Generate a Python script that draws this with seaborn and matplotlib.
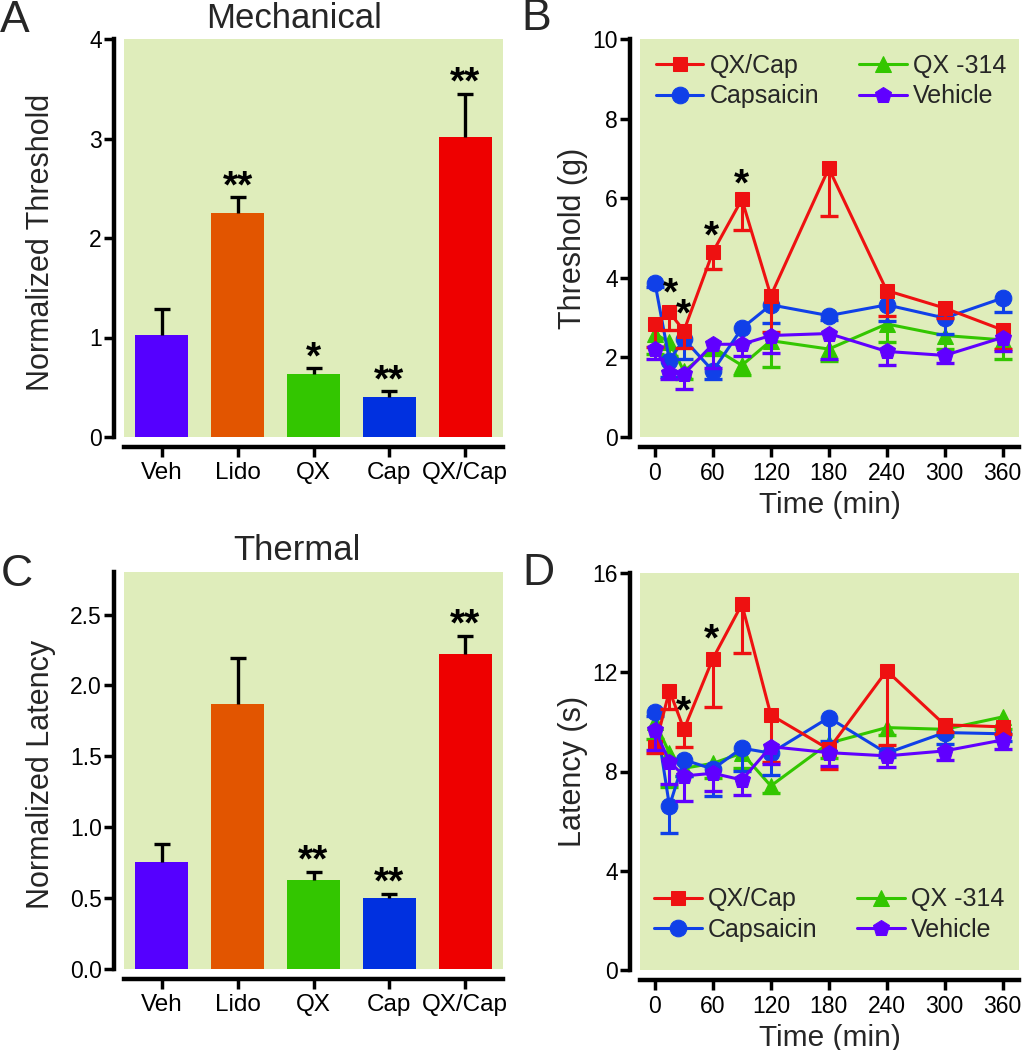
import numpy as np
import pandas as pd
import matplotlib
matplotlib.use('Agg')
import matplotlib.pyplot as plt
import seaborn as sns

# ---------------- data ----------------
bar_cats = ['Veh', 'Lido', 'QX', 'Cap', 'QX/Cap']
bar_colors = ['#5500FF', '#E25500', '#33C600', '#0030E0', '#EE0000']

mech_vals = [1.03, 2.25, 0.63, 0.40, 3.02]
mech_err = [0.26, 0.16, 0.06, 0.06, 0.43]
mech_stars = ['', '**', '*', '**', '**']

therm_vals = [0.755, 1.87, 0.63, 0.50, 2.22]
therm_err = [0.13, 0.32, 0.055, 0.03, 0.13]
therm_stars = ['', '', '**', '**', '**']

times = [0, 15, 30, 60, 90, 120, 180, 240, 300, 360]
series_names = ['QX/Cap', 'Capsaicin', 'QX -314', 'Vehicle']
series_colors = ['#EE1111', '#1040E8', '#33C600', '#6000FF']
series_markers = ['s', 'o', '^', 'p']

# Panel B: threshold (g), lower SEM
thr_qxcap = [2.84, 3.13, 2.67, 4.65, 5.97, 3.55, 6.75, 3.68, 3.24, 2.69]
thr_qxcap_err = [0.58, 0.45, 0.44, 0.42, 0.76, 0.90, 1.20, 0.65, 0.25, 0.48]
thr_cap = [3.87, 1.92, 2.46, 1.66, 2.73, 3.32, 3.05, 3.32, 2.99, 3.49]
thr_cap_err = [0.10, 0.40, 0.50, 0.20, 0.35, 0.45, 0.10, 0.40, 0.40, 0.36]
thr_qx = [2.59, 2.38, 1.65, 2.25, 1.80, 2.42, 2.21, 2.84, 2.55, 2.44]
thr_qx_err = [0.50, 0.35, 0.20, 0.20, 0.25, 0.65, 0.30, 0.45, 0.35, 0.47]
thr_veh = [2.22, 1.62, 1.58, 2.33, 2.33, 2.55, 2.60, 2.15, 2.05, 2.50]
thr_veh_err = [0.25, 0.17, 0.38, 0.60, 0.30, 0.45, 0.65, 0.35, 0.20, 0.35]

# Panel D: latency (s), lower SEM
lat_qxcap = [9.0, 11.26, 9.7, 12.55, 14.74, 10.28, 8.9, 12.06, 9.88, 9.8]
lat_qxcap_err = [0.25, 0.75, 0.70, 1.95, 1.95, 1.90, 0.80, 3.00, 0.30, 0.30]
lat_cap = [10.38, 6.61, 8.47, 8.10, 8.94, 8.74, 10.17, 8.74, 9.57, 9.52]
lat_cap_err = [0.15, 1.10, 0.65, 1.10, 0.90, 0.90, 0.95, 0.15, 0.45, 0.30]
lat_qx = [10.01, 8.74, 8.13, 8.33, 8.74, 7.42, 9.14, 9.77, 9.70, 10.2]
lat_qx_err = [0.70, 1.35, 0.30, 0.60, 0.60, 0.30, 0.60, 0.30, 0.25, 0.50]
lat_veh = [9.68, 8.40, 7.82, 7.93, 7.66, 9.00, 8.76, 8.63, 8.83, 9.27]
lat_veh_err = [0.80, 0.90, 1.00, 0.70, 0.60, 0.70, 0.55, 0.45, 0.35, 0.35]

thr_star_t = [16, 29, 59, 90]
thr_star_y = [3.85, 3.33, 5.28, 6.58]
lat_star_t = [29, 59]
lat_star_y = [10.82, 13.7]

BG = '#DFEDBB'

sns.set_theme(style='ticks')
plt.rcParams['font.family'] = ['Liberation Sans', 'DejaVu Sans']

fig = plt.figure(figsize=(10.22, 10.5), dpi=100)
W, H = 1022.0, 1050.0


def add_ax(left, top, right, bottom):
    return fig.add_axes([left / W, 1 - bottom / H, (right - left) / W, (bottom - top) / H])


axA = add_ax(124, 39, 503, 437)
axB = add_ax(640, 39, 1019, 437)
axC = add_ax(124, 572, 503, 969)
axD = add_ax(640, 573, 1019, 970)


def style(ax, xlabelsize):
    ax.set_facecolor(BG)
    for s in ['top', 'right']:
        ax.spines[s].set_visible(False)
    for s in ['left', 'bottom']:
        ax.spines[s].set_position(('outward', 7))
        ax.spines[s].set_linewidth(3.2)
        ax.spines[s].set_color('black')
    ax.tick_params(axis='y', width=2.5, length=7, labelsize=16.5, colors='black', pad=2)
    ax.tick_params(axis='x', width=2.5, length=7, labelsize=xlabelsize, colors='black', pad=4)
    ax.grid(False)


def bar_panel(ax, vals, errs, stars, ylim, yticks, yticklabels, ylabel):
    df = pd.DataFrame({'cat': bar_cats, 'val': vals})
    sns.barplot(data=df, x='cat', y='val', hue='cat', palette=bar_colors, order=bar_cats,
                hue_order=bar_cats, width=0.7, saturation=1, errorbar=None, legend=False,
                linewidth=0, ax=ax, zorder=2)
    x = np.arange(len(bar_cats))
    eb = ax.errorbar(x, vals, yerr=[np.zeros(len(vals)), errs], fmt='none', ecolor='black',
                     elinewidth=2.4, capsize=6, capthick=2.4, zorder=3)
    eb[1][0].set_visible(False)  # no cap at the bar top
    for xi, v, e, s in zip(x, vals, errs, stars):
        if s:
            ax.annotate(s, (xi, v + e), xytext=(0, 0), textcoords='offset points',
                        ha='center', va='baseline', fontsize=28, fontweight='bold',
                        color='black')
    ax.set_xlim(-0.5, 4.5)
    ax.set_ylim(*ylim)
    ax.set_yticks(yticks)
    ax.set_yticklabels(yticklabels)
    ax.set_xlabel('')
    ax.set_ylabel(ylabel, fontsize=22)
    ax.yaxis.set_label_coords(-0.18, 0.49)
    style(ax, 17.5)


def line_panel(ax, data, ylim, yticks, ylabel, star_t, star_y, leg_anchor):
    order = [2, 1, 0, 3]  # drawing order: green, blue, red, purple
    for k, i in enumerate(order):
        vals, errs = data[i]
        col = series_colors[i]
        eb = ax.errorbar(times, vals, yerr=[errs, np.zeros(len(errs))], fmt='none', ecolor=col,
                         elinewidth=2.2, capsize=6.5, capthick=2.4, zorder=3 + k)
        eb[1][1].set_visible(False)
        df = pd.DataFrame({'t': times, 'v': vals})
        ms = 10.5 if series_markers[i] == 's' else 12
        sns.lineplot(data=df, x='t', y='v', color=col, marker=series_markers[i],
                     markersize=ms, markeredgecolor=col, linewidth=2.2, label=series_names[i],
                     ax=ax, zorder=3.5 + k)
    h, l = ax.get_legend_handles_labels()
    hd = dict(zip(l, h))
    ax.legend([hd[n] for n in series_names], series_names, ncol=2, loc='upper left',
              bbox_to_anchor=leg_anchor, frameon=False, fontsize=18, handlelength=1.9,
              handletextpad=0.25, labelspacing=0.25, columnspacing=1.6, borderpad=0,
              borderaxespad=0)
    for t, y in zip(star_t, star_y):
        ax.annotate('*', (t, y), xytext=(0, -15), textcoords='offset points', ha='center',
                    va='baseline', fontsize=28, fontweight='bold', color='black', zorder=20)
    ax.set_xlim(-15.5, 377)
    ax.set_xticks([0, 60, 120, 180, 240, 300, 360])
    ax.set_ylim(*ylim)
    ax.set_yticks(yticks)
    ax.set_ylabel(ylabel, fontsize=22)
    ax.yaxis.set_label_coords(-0.137, 0.50)
    ax.set_xlabel('Time (min)', fontsize=21.5)
    style(ax, 16.5)


bar_panel(axA, mech_vals, mech_err, mech_stars, (0, 4), [0, 1, 2, 3, 4],
          ['0', '1', '2', '3', '4'], 'Normalized Threshold')
bar_panel(axC, therm_vals, therm_err, therm_stars, (0, 2.8), [0, 0.5, 1.0, 1.5, 2.0, 2.5],
          ['0.0', '0.5', '1.0', '1.5', '2.0', '2.5'], 'Normalized Latency')

line_panel(axB, [(thr_qxcap, thr_qxcap_err), (thr_cap, thr_cap_err), (thr_qx, thr_qx_err),
                 (thr_veh, thr_veh_err)], (0, 10), [0, 2, 4, 6, 8, 10], 'Threshold (g)',
           thr_star_t, thr_star_y, (0.042, 0.962))
line_panel(axD, [(lat_qxcap, lat_qxcap_err), (lat_cap, lat_cap_err), (lat_qx, lat_qx_err),
                 (lat_veh, lat_veh_err)], (0, 16), [0, 4, 8, 12, 16], 'Latency (s)',
           lat_star_t, lat_star_y, (0.037, 0.208))

# titles and panel letters
fig.text(294 / W, 1 - 28 / H, 'Mechanical', ha='center', va='baseline', fontsize=25)
fig.text(297 / W, 1 - 560 / H, 'Thermal', ha='center', va='baseline', fontsize=25)
fig.text(0 / W, 1 - 32 / H, 'A', ha='left', va='baseline', fontsize=32)
fig.text(521 / W, 1 - 30 / H, 'B', ha='left', va='baseline', fontsize=32)
fig.text(1 / W, 1 - 586 / H, 'C', ha='left', va='baseline', fontsize=32)
fig.text(522 / W, 1 - 585 / H, 'D', ha='left', va='baseline', fontsize=32)

fig.savefig('out.png', dpi=100, facecolor='white')
